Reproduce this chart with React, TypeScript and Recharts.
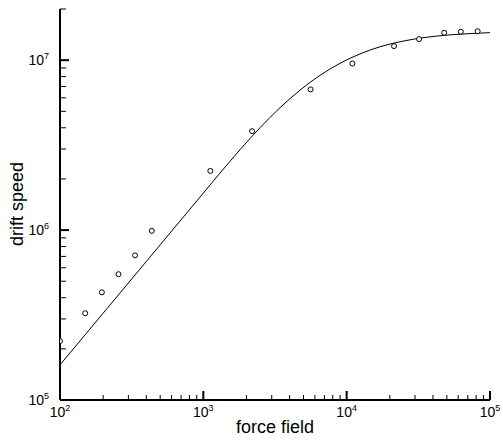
import React from "react"
import {
  ComposedChart,
  Line,
  Scatter,
  XAxis,
  YAxis,
} from "recharts"

// measured points (circles)
const fieldPts = [100, 150, 196, 256, 334, 437, 1119, 2188, 5600, 10970, 21400, 32000, 47900, 62600, 82000]
const speedPts = [2.22e5, 3.24e5, 4.3e5, 5.5e5, 7.1e5, 9.9e5, 2.23e6, 3.82e6, 6.73e6, 9.55e6, 1.21e7, 1.33e7, 1.45e7, 1.47e7, 1.48e7]

// fitted curve
const fieldCurve = [100, 262, 948, 1307, 1802, 2485, 3426, 4725, 6516, 8984, 12390, 17080, 23560, 32480, 44800, 61770, 100000]
const speedCurve = [1.61e5, 4.26e5, 1.564e6, 2.164e6, 2.971e6, 4.003e6, 5.248e6, 6.66e6, 8.14e6, 9.58e6, 1.088e7, 1.199e7, 1.283e7, 1.347e7, 1.392e7, 1.422e7, 1.451e7]

const xTicks = [
  100, 200, 300, 400, 500, 600, 700, 800, 900,
  1000, 2000, 3000, 4000, 5000, 6000, 7000, 8000, 9000,
  10000, 20000, 30000, 40000, 50000, 60000, 70000, 80000, 90000,
  100000,
]
const yTicks = [
  1e5, 2e5, 3e5, 4e5, 5e5, 6e5, 7e5, 8e5, 9e5,
  1e6, 2e6, 3e6, 4e6, 5e6, 6e6, 7e6, 8e6, 9e6,
  1e7, 2e7,
]

const points = fieldPts.map((x, i) => ({ x, y: speedPts[i] }))
const curve = fieldCurve.map((x, i) => ({ x, y: speedCurve[i] }))

const FONT = '"Liberation Sans", Arial, Helvetica, sans-serif'

const powerOf = (v: number) => {
  const e = Math.round(Math.log10(v))
  return Math.abs(Math.pow(10, e) - v) < 1e-6 * v ? e : null
}

function XTick(props: any) {
  const { x, y, payload } = props
  const e = powerOf(payload.value)
  return (
    <g>
      <line x1={x} y1={y} x2={x} y2={y - (e !== null ? 9 : 5)} stroke="#000" strokeWidth={e !== null ? 2 : 1} />
      {e !== null && (
        <text x={x} y={y + 17} textAnchor="middle" fill="#000" fontFamily={FONT} fontSize={14}>
          <tspan>10</tspan>
          <tspan dy={-6} fontSize={9}>{e}</tspan>
        </text>
      )}
    </g>
  )
}

function YTick(props: any) {
  const { x, y, payload } = props
  const e = powerOf(payload.value)
  return (
    <g>
      <line x1={x} y1={y} x2={x + (e !== null ? 9 : 6)} y2={y} stroke="#000" strokeWidth={e !== null ? 2 : 1} />
      {e !== null && (
        <text x={x - 11} y={y + 5} textAnchor="end" fill="#000" fontFamily={FONT} fontSize={14}>
          <tspan>10</tspan>
          <tspan dy={-6} fontSize={9}>{e}</tspan>
        </text>
      )}
    </g>
  )
}

const Dot = (props: any) => (
  <circle cx={props.cx} cy={props.cy} r={2.5} fill="#fff" stroke="#000" strokeWidth={1} />
)

export default function App() {
  return (
    <div style={{ position: "absolute", left: 0, top: 0, background: "#fff" }}>
      <ComposedChart
        width={503}
        height={444}
        margin={{ top: 9, right: 13, left: 0, bottom: 0 }}
      >
        <XAxis
          dataKey="x"
          type="number"
          scale="log"
          domain={[100, 100000]}
          ticks={xTicks}
          interval={0}
          allowDataOverflow
          height={44}
          tickSize={0}
          tickMargin={0}
          tickLine={false}
          axisLine={{ stroke: "#000", strokeWidth: 2 }}
          tick={<XTick />}
          label={{
            content: () => (
              <text x={275} y={433} textAnchor="middle" fill="#000" fontFamily={FONT} fontSize={18}>
                force field
              </text>
            ),
          }}
        />
        <YAxis
          dataKey="y"
          type="number"
          scale="log"
          domain={[1e5, 2e7]}
          ticks={yTicks}
          interval={0}
          allowDataOverflow
          width={60}
          tickSize={0}
          tickMargin={0}
          tickLine={false}
          axisLine={{ stroke: "#000", strokeWidth: 2 }}
          tick={<YTick />}
          label={{
            content: () => (
              <text
                x={23}
                y={204}
                textAnchor="middle"
                fill="#000"
                fontFamily={FONT}
                fontSize={18}
                transform="rotate(-90 23 204)"
              >
                drift speed
              </text>
            ),
          }}
        />
        <Line
          data={curve}
          dataKey="y"
          type="monotone"
          stroke="#000"
          strokeWidth={1}
          dot={false}
          activeDot={false}
          isAnimationActive={false}
        />
        <Scatter data={points} dataKey="y" shape={<Dot />} isAnimationActive={false} />
      </ComposedChart>
    </div>
  )
}
